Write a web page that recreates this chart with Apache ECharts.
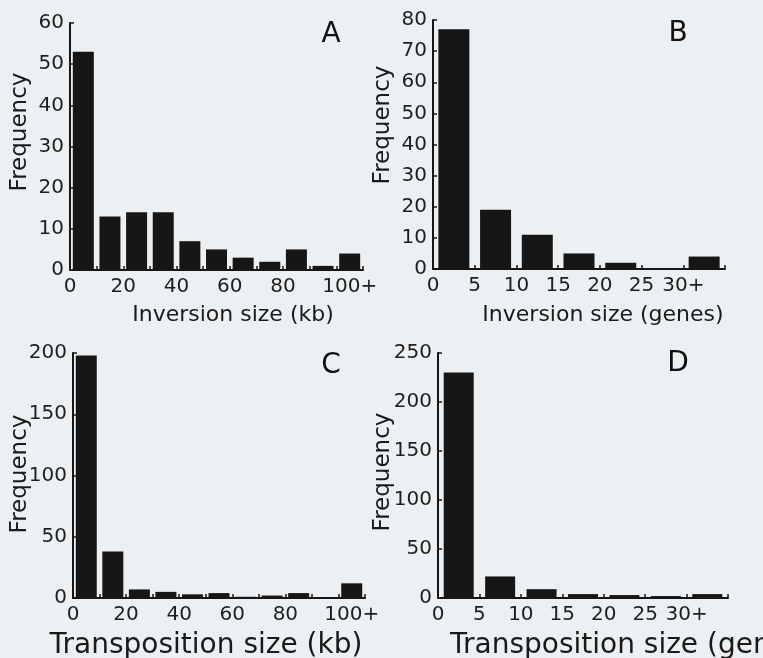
<!DOCTYPE html>
<html><head><meta charset="utf-8">
<script src="https://cdn.jsdelivr.net/npm/echarts@6/dist/echarts.min.js"></script>
<style>html,body{margin:0;padding:0;background:#edf0f2}#c{width:763px;height:658px}</style>
</head><body><div id="c"></div>
<script>
// ---- data ----
const binStartsKb = [0, 10, 20, 30, 40, 50, 60, 70, 80, 90, 100];   // last bin = 100+
const binKb = 10;
const binStartsGenes = [0, 5, 10, 15, 20, 25, 30];                  // last bin = 30+
const binGenes = 5;
const inversionKb = [53, 13, 14, 14, 7, 5, 3, 2, 5, 1, 4];
const inversionGenes = [77, 19, 11, 5, 2, 0, 4];
const transpositionKb = [198, 38, 7, 5, 3, 4, 1, 2, 4, 0, 12];
const transpositionGenes = [230, 22, 9, 4, 3, 2, 4];
const tickValuesKb = [0, 20, 40, 60, 80, 105];
const tickLabelsKb = ['0', '20', '40', '60', '80', '100+'];
const tickValuesGenes = [0, 5, 10, 15, 20, 25, 30];
const tickLabelsGenes = ['0', '5', '10', '15', '20', '25', '30+'];
const panelLetters = ['A', 'B', 'C', 'D'];
const xNames = ['Inversion size (kb)', 'Inversion size (genes)', 'Transposition size (kb)', 'Transposition size (genes)'];
const yName = 'Frequency';

// ---- style ----
const FONT = 'DejaVu Sans';
const ink = '#161616';
const chart = echarts.init(document.getElementById('c'));

const grids = [
  {left: 70, top: 23, width: 293, height: 247},
  {left: 433, top: 20, width: 292, height: 249},
  {left: 73, top: 353, width: 292, height: 245},
  {left: 438, top: 353, width: 290, height: 245}
];

function xAxis(gi, max, interval, vals, labels) {
  return {
    type: 'value', gridIndex: gi, min: 0, max: max, interval: interval,
    axisLine: {show: true, lineStyle: {color: ink, width: 2}},
    axisTick: {show: true, inside: true, length: 4, lineStyle: {color: ink, width: 1.5}},
    splitLine: {show: false},
    axisLabel: {
      customValues: vals, margin: 7, color: '#1e1e1e', fontFamily: FONT, fontSize: 20,
      formatter: v => { const i = vals.indexOf(v); return i >= 0 ? labels[i] : ''; }
    }
  };
}
function yAxis(gi, max, interval) {
  return {
    type: 'value', gridIndex: gi, min: 0, max: max, interval: interval,
    axisLine: {show: true, lineStyle: {color: ink, width: 2}},
    axisTick: {show: true, inside: true, length: 4, lineStyle: {color: ink, width: 1.5}},
    splitLine: {show: false},
    axisLabel: {margin: 6, color: '#1e1e1e', fontFamily: FONT, fontSize: 20}
  };
}
function bars(gi, starts, w, vals, bw) {
  return {
    type: 'bar', xAxisIndex: gi, yAxisIndex: gi, barWidth: bw,
    itemStyle: {color: ink},
    data: vals.map((v, i) => [starts[i] + w / 2, v])
  };
}

const letterPos = [[331, 35], [678, 34], [331, 366], [678, 364]];
const xNamePos = [[233, 315, 'center', 22], [603, 315, 'center', 22], [206, 646, 'center', 28], [450, 646, 'left', 28]];
const yNamePos = [[20, 132], [383, 125], [20, 474], [383, 472]];
const graphic = [];
panelLetters.forEach((t, i) => graphic.push({type: 'text', x: letterPos[i][0], y: letterPos[i][1],
  style: {text: t, font: '28px "DejaVu Sans"', fill: '#111', textAlign: 'center', textVerticalAlign: 'middle'}}));
xNames.forEach((t, i) => graphic.push({type: 'text', x: xNamePos[i][0], y: xNamePos[i][1],
  style: {text: t, font: xNamePos[i][3] + 'px "DejaVu Sans"', fill: '#1a1a1a', textAlign: xNamePos[i][2], textVerticalAlign: 'middle'}}));
yNamePos.forEach(p => graphic.push({type: 'text', x: p[0], y: p[1], rotation: Math.PI / 2,
  style: {text: yName, font: '23px "DejaVu Sans"', fill: '#1a1a1a', textAlign: 'center', textVerticalAlign: 'middle'}}));

chart.setOption({
  backgroundColor: '#edf0f2',
  animation: false,
  grid: grids,
  xAxis: [
    xAxis(0, 110, 10, tickValuesKb, tickLabelsKb),
    xAxis(1, 35, 5, tickValuesGenes, tickLabelsGenes),
    xAxis(2, 110, 10, tickValuesKb, tickLabelsKb),
    xAxis(3, 35, 5, tickValuesGenes, tickLabelsGenes)
  ],
  yAxis: [yAxis(0, 60, 10), yAxis(1, 80, 10), yAxis(2, 200, 50), yAxis(3, 250, 50)],
  series: [
    bars(0, binStartsKb, binKb, inversionKb, 21),
    bars(1, binStartsGenes, binGenes, inversionGenes, 31),
    bars(2, binStartsKb, binKb, transpositionKb, 21),
    bars(3, binStartsGenes, binGenes, transpositionGenes, 30)
  ],
  graphic: graphic
});
</script></body></html>
